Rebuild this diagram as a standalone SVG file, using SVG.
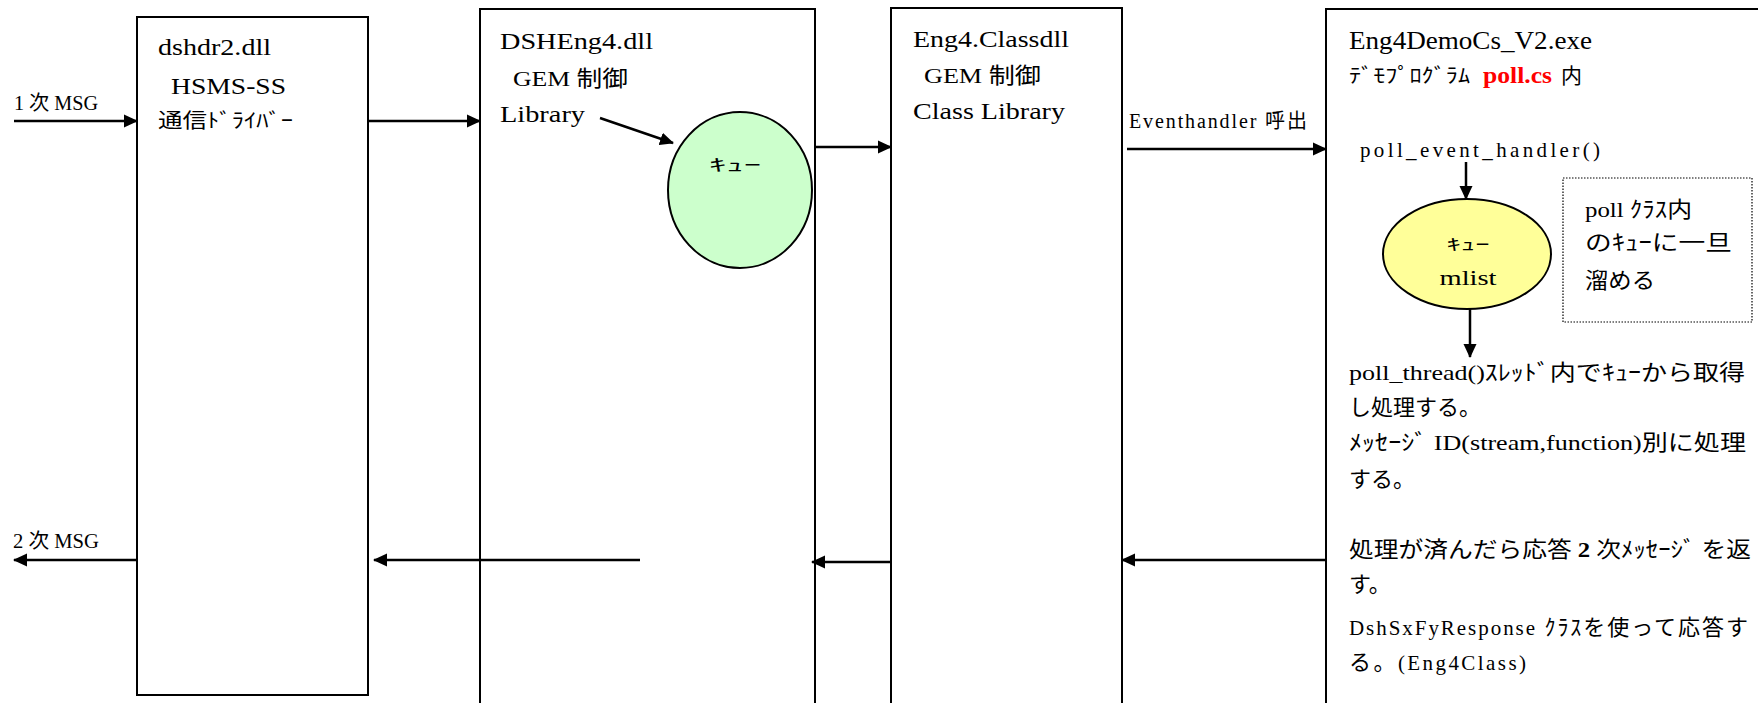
<svg xmlns="http://www.w3.org/2000/svg" width="1758" height="703" viewBox="0 0 1758 703">
  <defs>
    <style>
      .box { fill: #ffffff; stroke: #000000; stroke-width: 2; }
      .note { fill: #ffffff; stroke: #000000; stroke-width: 1.2; stroke-dasharray: 1.5 1.5; }
      .queue-g { fill: #ccffcc; stroke: #000000; stroke-width: 2; }
      .queue-y { fill: #ffff99; stroke: #000000; stroke-width: 2; }
      .link { fill: none; stroke: #000000; stroke-width: 2.5; marker-end: url(#head); }
      .serif { font-family: "Liberation Serif", "Noto Sans CJK JP", serif; fill: #000000; }
      .jp { font-family: "Noto Sans CJK JP", sans-serif; fill: #000000; }
      .red { fill: #ff0000; font-weight: bold; }
    </style>
    <marker id="head" markerUnits="userSpaceOnUse" viewBox="0 0 14 14" refX="13" refY="7" markerWidth="14" markerHeight="14" orient="auto">
      <path d="M0,0.5 L14,7 L0,13.5 z" fill="#000000"/>
    </marker>
  </defs>

  <!-- communication driver -->
  <g id="dshdr2">
    <rect class="box" x="137" y="17" width="231" height="678"/>
    <text class="serif" x="158" y="55" font-size="23" textLength="113" lengthAdjust="spacingAndGlyphs">dshdr2.dll</text>
    <text class="serif" x="171" y="94" font-size="23" textLength="115" lengthAdjust="spacingAndGlyphs">HSMS-SS</text>
    <text class="serif" x="158" y="128" font-size="20" textLength="135" lengthAdjust="spacingAndGlyphs">通信ﾄﾞﾗｲﾊﾞｰ</text>
  </g>

  <!-- GEM control library -->
  <g id="dsheng4">
    <rect class="box" x="480" y="9" width="335" height="720"/>
    <text class="serif" x="500" y="49" font-size="24" textLength="153" lengthAdjust="spacingAndGlyphs">DSHEng4.dll</text>
    <text class="serif" x="513" y="86" font-size="22" textLength="115" lengthAdjust="spacingAndGlyphs">GEM 制御</text>
    <text class="serif" x="500" y="122" font-size="24" textLength="85" lengthAdjust="spacingAndGlyphs">Library</text>
  </g>

  <g id="queue1">
    <ellipse class="queue-g" cx="740" cy="190" rx="72" ry="78"/>
    <text class="jp" x="735" y="171" font-size="17" text-anchor="middle" textLength="52" lengthAdjust="spacingAndGlyphs">ｷｭｰ</text>
  </g>

  <!-- GEM control class library -->
  <g id="eng4class">
    <rect class="box" x="891" y="8" width="231" height="720"/>
    <text class="serif" x="913" y="47" font-size="24" textLength="156" lengthAdjust="spacingAndGlyphs">Eng4.Classdll</text>
    <text class="serif" x="924" y="83" font-size="22" textLength="117" lengthAdjust="spacingAndGlyphs">GEM 制御</text>
    <text class="serif" x="913" y="119" font-size="24" textLength="152" lengthAdjust="spacingAndGlyphs">Class Library</text>
  </g>

  <!-- demo application -->
  <g id="demo">
    <rect class="box" x="1326" y="9" width="500" height="720"/>
    <text class="serif" x="1349" y="49" font-size="26" textLength="243" lengthAdjust="spacingAndGlyphs">Eng4DemoCs_V2.exe</text>
    <text class="jp" x="1349" y="83" font-size="20" textLength="121" lengthAdjust="spacingAndGlyphs">ﾃﾞﾓﾌﾟﾛｸﾞﾗﾑ</text>
    <text class="serif red" x="1483" y="83" font-size="24" textLength="69" lengthAdjust="spacingAndGlyphs">poll.cs</text>
    <text class="jp" x="1561" y="83" font-size="21">内</text>
    <text class="serif" x="1360" y="157" font-size="21" textLength="240" lengthAdjust="spacing">poll_event_handler()</text>

    <text class="serif" x="1349" y="380" font-size="22" textLength="396" lengthAdjust="spacingAndGlyphs">poll_thread()ｽﾚｯﾄﾞ内でｷｭｰから取得</text>
    <text class="serif" x="1349" y="415" font-size="22">し処理する。</text>
    <text class="serif" x="1349" y="450" font-size="22" textLength="397" lengthAdjust="spacingAndGlyphs">ﾒｯｾｰｼﾞ ID(stream,function)別に処理</text>
    <text class="serif" x="1349" y="487" font-size="22">する。</text>
    <text class="serif" x="1349" y="557" font-size="22" textLength="402" lengthAdjust="spacingAndGlyphs">処理が済んだら応答 <tspan font-weight="bold">2</tspan> 次ﾒｯｾｰｼﾞ を返</text>
    <text class="serif" x="1349" y="592" font-size="22">す。</text>
    <text class="serif" x="1349" y="635" font-size="22" textLength="399" lengthAdjust="spacing"><tspan font-size="21">DshSxFyResponse</tspan> ｸﾗｽを使って応答す</text>
    <text class="serif" x="1349" y="670" font-size="22" textLength="177" lengthAdjust="spacing">る。<tspan font-size="21">(Eng4Class)</tspan></text>
  </g>

  <g id="queue2">
    <ellipse class="queue-y" cx="1467" cy="254" rx="84" ry="55"/>
    <text class="jp" x="1468" y="250" font-size="16" text-anchor="middle" textLength="43" lengthAdjust="spacingAndGlyphs">ｷｭｰ</text>
    <text class="serif" x="1468" y="285" font-size="20" text-anchor="middle" textLength="57" lengthAdjust="spacingAndGlyphs">mlist</text>
  </g>

  <g id="note">
    <rect class="note" x="1563" y="178" width="189" height="144"/>
    <text class="serif" x="1585" y="217" font-size="22" textLength="107" lengthAdjust="spacingAndGlyphs">poll ｸﾗｽ内</text>
    <text class="serif" x="1585" y="250" font-size="22" textLength="147" lengthAdjust="spacingAndGlyphs">のｷｭｰに一旦</text>
    <text class="serif" x="1585" y="288" font-size="22" textLength="70" lengthAdjust="spacingAndGlyphs">溜める</text>
  </g>

  <!-- message flow -->
  <g id="connectors">
    <path class="link" d="M14,121 H137"/>
    <path class="link" d="M368,121 H480"/>
    <path class="link" d="M600,118 L673,143"/>
    <path class="link" d="M815,147 H891"/>
    <path class="link" d="M1127,149 H1326"/>
    <path class="link" d="M1466,162 V199"/>
    <path class="link" d="M1470,309 V357"/>
    <path class="link" d="M1326,560 H1122"/>
    <path class="link" d="M891,562 H812"/>
    <path class="link" d="M640,560 H374"/>
    <path class="link" d="M137,560 H14"/>
    <text class="serif" x="14" y="110" font-size="20" textLength="84" lengthAdjust="spacingAndGlyphs">1 次 MSG</text>
    <text class="serif" x="13" y="548" font-size="20" textLength="86" lengthAdjust="spacingAndGlyphs">2 次 MSG</text>
    <text class="serif" x="1129" y="128" font-size="20" textLength="178" lengthAdjust="spacing">Eventhandler 呼出</text>
  </g>
</svg>
